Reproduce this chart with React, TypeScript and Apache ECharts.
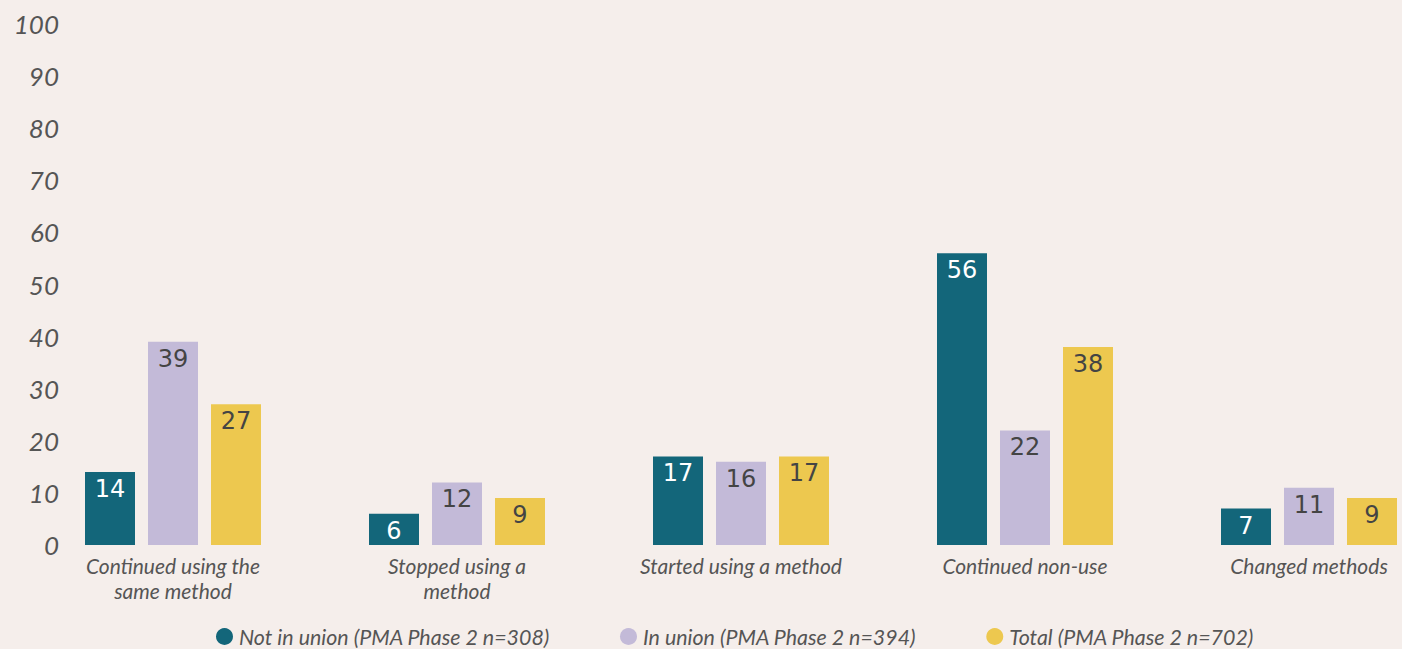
import React, { useEffect, useRef } from "react";
import * as echarts from "echarts";

const categories = [
  "Continued using the\nsame method",
  "Stopped using a\nmethod",
  "Started using a method",
  "Continued non-use",
  "Changed methods",
];
const seriesNames = [
  "Not in union (PMA Phase 2 n=308)",
  "In union (PMA Phase 2 n=394)",
  "Total (PMA Phase 2 n=702)",
];
const notInUnion = [14, 6, 17, 56, 7];
const inUnion = [39, 12, 16, 22, 11];
const total = [27, 9, 17, 38, 9];
const yTicks = { min: 0, max: 100, interval: 10 };

const colors = ["#13667A", "#C3BAD8", "#EDC84F"];
const labelColors = ["#FFFFFF", "#444444", "#444444"];

export default function App() {
  const ref = useRef<HTMLDivElement>(null);
  useEffect(() => {
    document.body.style.margin = "0";
    const chart = echarts.init(ref.current!, null, { renderer: "svg" });
    const data = [notInUnion, inUnion, total];
    chart.setOption({
      animation: false,
      backgroundColor: "#F5EEEB",
      grid: {
        left: 31,
        right: -49,
        top: 24,
        bottom: 104,
        containLabel: false,
        outerBoundsMode: "none",
      },
      legend: {
        left: 211,
        top: 621,
        icon: "circle",
        itemWidth: 17,
        itemHeight: 17,
        itemGap: 70,
        textStyle: {
          fontFamily: "Lato",
          fontStyle: "italic",
          fontSize: 21.4,
          color: "#555555",
          padding: [0, 0, 0, 1],
        },
        data: seriesNames,
      },
      xAxis: {
        type: "category",
        data: categories,
        axisLine: { show: false },
        axisTick: { show: false },
        axisLabel: {
          interval: 0,
          margin: 8,
          fontFamily: "Lato",
          fontStyle: "italic",
          fontSize: 21,
          lineHeight: 25,
          color: "#555555",
          verticalAlign: "top",
        },
      },
      yAxis: {
        type: "value",
        min: yTicks.min,
        max: yTicks.max,
        interval: yTicks.interval,
        splitLine: { show: false },
        axisLine: { show: false },
        axisTick: { show: false },
        axisLabel: {
          margin: -28,
          fontFamily: "Lato",
          fontStyle: "italic",
          fontSize: 26,
          color: "#555555",
          align: "right",
        },
      },
      series: seriesNames.map((name, i) => ({
        name,
        type: "bar",
        data: data[i],
        barWidth: 50,
        barGap: "26%",
        itemStyle: { color: colors[i] },
        label: {
          show: true,
          position: "insideTop",
          distance: 5,
          fontFamily: "DejaVu Sans",
          fontWeight: "normal",
          fontSize: 24,
          color: labelColors[i],
        },
      })),
    });
    return () => chart.dispose();
  }, []);
  return <div ref={ref} style={{ width: 1402, height: 649 }} />;
}
